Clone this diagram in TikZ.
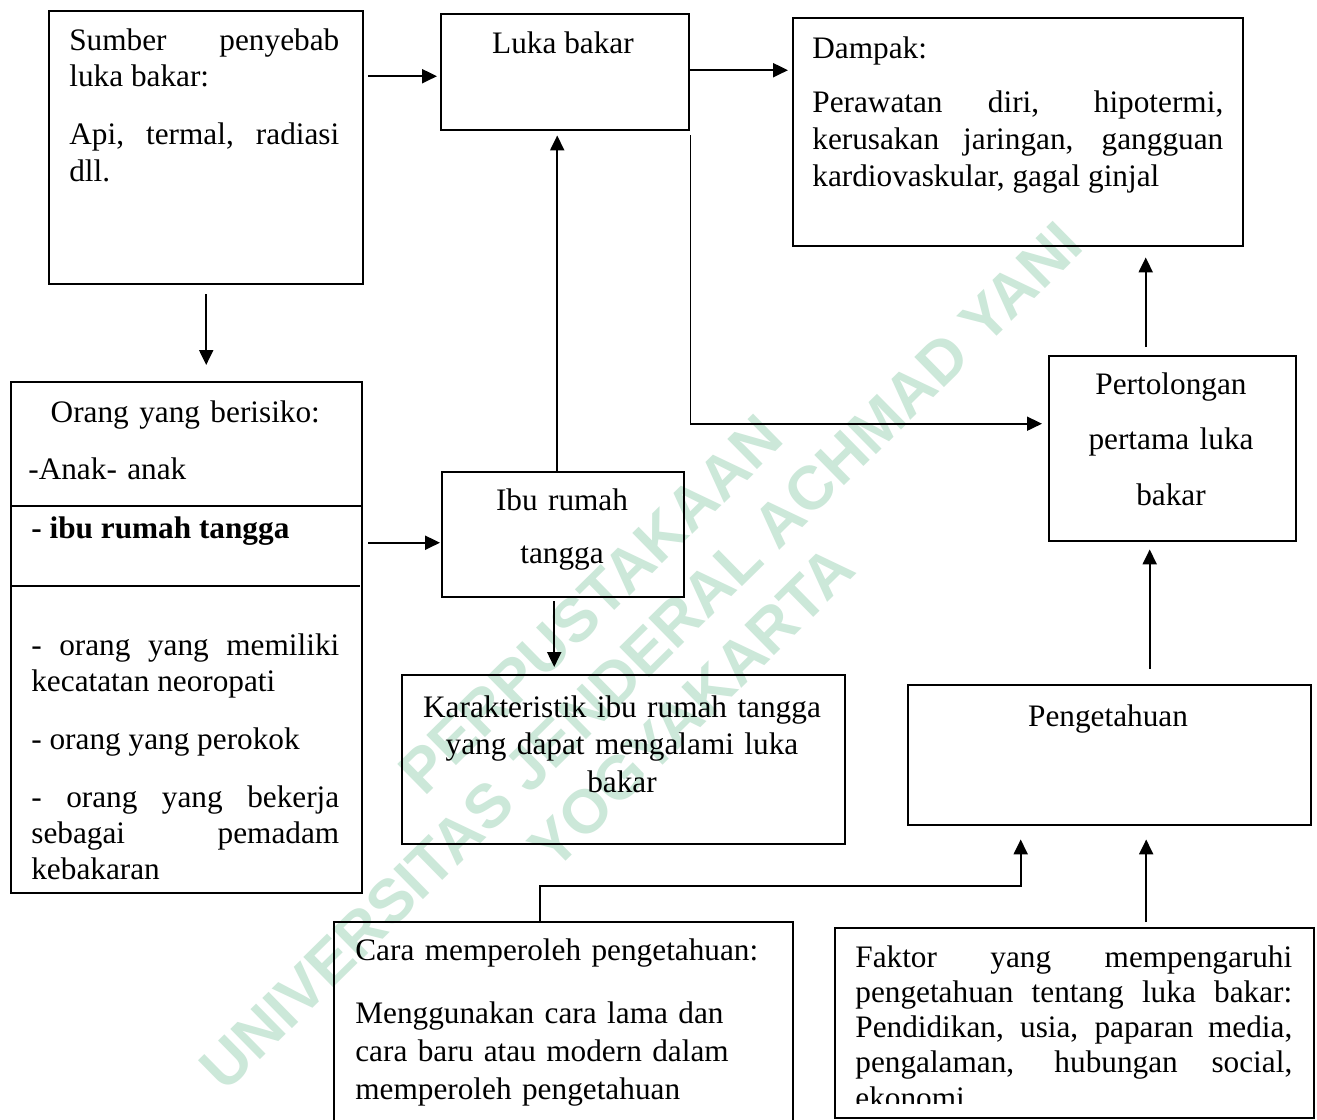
\documentclass[tikz,border=0pt]{standalone}
\usepackage{fontspec}
\setmainfont{Liberation Serif}
\newfontfamily\wmfont{Liberation Sans}
\usepackage{tikz}
\usetikzlibrary{arrows.meta}
\usetikzlibrary{calc,positioning}

\definecolor{hijaupudar}{RGB}{204,232,217}
\newcommand{\isi}[1]{\fontsize{17.8pt}{#1}\selectfont}
\hyphenpenalty=10000
\exhyphenpenalty=10000

\begin{document}
\begin{tikzpicture}[>={Triangle[length=3mm,width=2.8mm]}, x=0.02cm, y=-0.02cm,
    kotak/.style={draw, line width=1.4pt, inner sep=0pt, anchor=north west},
    teks/.style={inner sep=0pt, font=\isi{20.8pt}},
    panah/.style={->, line width=1.2pt},
    tanda/.style={text=hijaupudar, align=center, font=\wmfont\bfseries\fontsize{35pt}{41pt}\selectfont}]

    \useasboundingbox (0,0) rectangle (1317,1119);
    \fill[white] (0,0) rectangle (1317,1119);
    \clip (0,0) rectangle (1317,1119);

    \node[tanda, rotate=44.5] (cap) at (641,656) {PERPUSTAKAAN\\UNIVERSITAS JENDERAL ACHMAD YANI\\YOGYAKARTA};

    \node[kotak, minimum width=6.28cm, minimum height=5.46cm] (sumber) at (48,10) {};
    \node[kotak, minimum width=4.96cm, minimum height=2.32cm] (luka) at (440,13) {};
    \node[kotak, minimum width=9cm, minimum height=4.56cm] (dampak) at (792,17) {};
    \node[kotak, minimum width=7.02cm, minimum height=10.22cm] (orang) at (10,381) {};
    \node[kotak, minimum width=4.84cm, minimum height=2.5cm] (ibu) at (441,471) {};
    \node[kotak, minimum width=8.86cm, minimum height=3.38cm] (karak) at (401,674) {};
    \node[kotak, minimum width=4.94cm, minimum height=3.7cm] (tolong) at (1048,355) {};
    \node[kotak, minimum width=8.06cm, minimum height=2.8cm] (tahu) at (907,684) {};
    \node[kotak, minimum width=9.18cm, minimum height=4.6cm] (cara) at (333,921) {};
    \node[kotak, minimum width=9.58cm, minimum height=3.8cm] (faktor) at (834,927) {};

    \draw[line width=0.8pt] (orang.west |- 0,506) -- (orang.east |- 0,506);
    \draw[line width=0.8pt] (orang.west |- 0,586) -- ($(orang.east |- 0,586)+(-3,0)$);

    \node[teks, text width=5.4cm, align=justify, anchor=base west, font=\isi{21pt}] (sumberT) at (69,50)
        {Sumber penyebab\linebreak luka bakar:\par\vspace{12pt}Api, termal, radiasi\linebreak dll.};
    \node[teks, anchor=base] (lukaT) at (563,53) {Luka bakar};
    \node[teks, text width=8.22cm, align=justify, anchor=base west, font=\isi{21pt}] (dampakT) at (812,58)
        {Dampak:\par\vspace{10.2pt}Perawatan diri, hipotermi,\linebreak kerusakan jaringan, gangguan\linebreak kardiovaskular, gagal ginjal};

    \node[teks, text width=6.16cm, align=left, anchor=base west] (orangT) at (31,422)
        {\makebox[\linewidth]{Orang yang berisiko:}\par\vspace{12.2pt}\hspace*{-0.6mm}-Anak- anak};
    \node[teks, anchor=base west, font=\isi{20.8pt}\bfseries] (orangB) at (31,538) {- ibu rumah tangga};
    \node[teks, text width=6.16cm, align=justify, anchor=base west, font=\isi{20.5pt}] (orangL) at (31,655)
        {- orang yang memiliki\linebreak kecatatan neoropati\par\vspace{13pt}- orang yang perokok\par\vspace{12.5pt}- orang yang bekerja\linebreak sebagai pemadam\linebreak kebakaran};

    \node[teks, text width=4cm, align=center, anchor=base, font=\isi{30.2pt}] (ibuT) at (562,510) {Ibu rumah\\tangga};
    \node[teks, text width=8.5cm, align=center, anchor=base, font=\isi{21.6pt}] (karakT) at (622,717)
        {Karakteristik ibu rumah tangga\\yang dapat mengalami luka\\bakar};
    \node[teks, text width=4.5cm, align=center, anchor=base, font=\isi{31.6pt}] (tolongT) at (1171,394)
        {Pertolongan\\pertama luka\\bakar};
    \node[teks, anchor=base] (tahuT) at (1108,726) {Pengetahuan};

    \node[teks, text width=8.5cm, align=left, anchor=base west, font=\isi{21.6pt}] (caraT) at (355,960)
        {Cara memperoleh pengetahuan:\par\vspace{14.5pt}Menggunakan cara lama dan\\cara baru atau modern dalam\\memperoleh pengetahuan};

    \begin{scope}
        \clip (834,927) rectangle (1313,1103);
        \node[teks, text width=8.74cm, align=justify, anchor=base west, font=\isi{20.1pt}] (faktorT) at (855,967)
            {Faktor yang mempengaruhi\linebreak pengetahuan tentang luka bakar:\linebreak Pendidikan, usia, paparan media,\linebreak pengalaman, hubungan social,\linebreak ekonomi};
    \end{scope}

    \draw[panah, shorten <=0.8mm, shorten >=0.6mm] ($(sumber.east |- luka.west)+(0,4)$) -- ($(luka.west)+(0,4)$);
    \draw[panah, shorten >=0.8mm] ($(luka.east)+(0,-2)$) -- ($(luka.east -| dampak.west)+(0,-2)$);
    \draw[panah, shorten <=1.8mm, shorten >=3.2mm] (sumber.south) -- (sumber.south |- orang.north);
    \draw[panah, shorten <=1mm, shorten >=0.2mm] ($(orang.east |- ibu.west)+(0,8)$) -- ($(ibu.west)+(0,8)$);
    \draw[panah, shorten >=0.8mm] ($(ibu.north)+(-6,0)$) -- ($(ibu.north |- luka.south)+(-6,0)$);
    \draw[panah, shorten <=0.6mm, shorten >=1.4mm] ($(ibu.south)+(-9,0)$) -- ($(ibu.south |- karak.north)+(-9,0)$);
    \draw[panah, line width=1pt, shorten >=1.2mm] ($(luka.south east)+(0,4)$) |- ($(tolong.west)+(0,-25)$);
    \draw[panah, shorten <=1.6mm, shorten >=2mm] ($(tolong.north)+(-27,0)$) -- ($(tolong.north |- dampak.south)+(-27,0)$);
    \draw[panah, shorten <=3mm, shorten >=1.4mm] ($(tahu.north)+(40,0)$) -- ($(tahu.north |- tolong.south)+(40,0)$);
    \draw[panah, shorten >=2.6mm] ($(cara.north)+(-24,0)$) -- ++(0,-35) -| ($(tahu.south)+(-89,0)$);
    \draw[panah, shorten <=1mm, shorten >=2.6mm] ($(faktor.north)+(71.5,0)$) -- ($(faktor.north |- tahu.south)+(71.5,0)$);

\end{tikzpicture}
\end{document}
